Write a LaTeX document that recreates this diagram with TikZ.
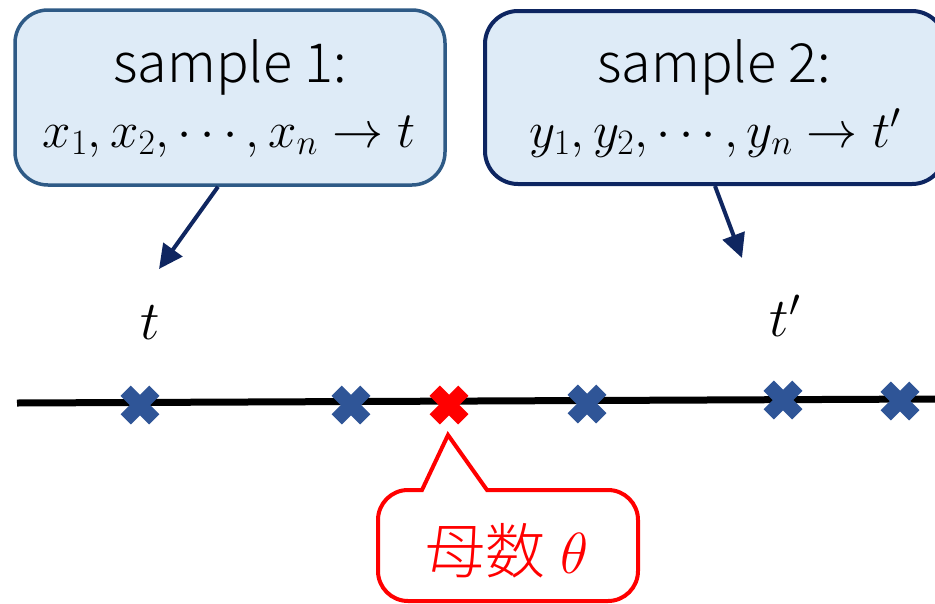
\RequirePackage{fix-cm}
\documentclass[tikz,border=0pt]{standalone}
\usepackage{fontspec}
\newfontfamily\jpfont{Noto Sans CJK JP Light}
\usetikzlibrary{arrows.meta,calc}
\definecolor{boxfill}{HTML}{DEEBF7}
\definecolor{bordera}{HTML}{2E5A86}
\definecolor{borderb}{HTML}{0D2561}
\definecolor{arrcol}{HTML}{0F2660}
\definecolor{crossblue}{HTML}{2F5597}
\tikzset{
  samplebox/.style={draw, fill=boxfill, line width=3.5, rounded corners=33, inner sep=0pt},
  jptext/.style={font={\jpfont\fontsize{54}{60}\selectfont}, inner sep=0pt},
  mathtext/.style={font={\fontsize{51}{58}\selectfont}, inner sep=0pt},
  biglabel/.style={font={\fontsize{55}{60}\selectfont}, inner sep=0pt},
  arr/.style={draw=arrcol, line width=4, -{Triangle[length=24pt,width=23pt]}},
  xmark/.pic={\draw[line width=14.5, line cap=butt] (-14.3,-14.3) -- (14.3,14.3) (-14.3,14.3) -- (14.3,-14.3);}
}
\begin{document}
\begin{tikzpicture}[x=1pt,y=-1pt]
\useasboundingbox (0,0) rectangle (935,603);
% sample boxes
\node[samplebox, draw=bordera, minimum width=430, minimum height=175] (b1) at (230,97.5) {};
\node[samplebox, draw=borderb, line width=4, minimum width=460, minimum height=173] (b2) at (715,97.5) {};
\node[jptext, anchor=base] (s1) at (230,82) {sample 1:};
\node[mathtext, anchor=base] (m1) at (229,147) {$x_1, x_2, \cdots, x_n \to t$};
\node[jptext, anchor=base] (s2) at (714,82) {sample 2:};
\node[mathtext, anchor=base] (m2) at (715,147) {$y_1, y_2, \cdots, y_n \to t'$};
% arrow targets
\coordinate (p1) at (159,269);
\coordinate (p2) at (742,258);
\draw[arr] ($(b1.south)+(-12,0)$) -- (p1);
\draw[arr] (b2.south) -- (p2);
% labels
\node[biglabel, anchor=base] (t1) at (150,339) {$t$};
\node[biglabel, anchor=base] (t2) at (785,336) {$t'$};
% axis
\coordinate (L0) at (17,403);
\coordinate (L1) at (935,399);
\draw[line width=7] (L0) -- (L1);
% crosses
\coordinate (c1) at (140,405);
\coordinate (c2) at (351,405);
\coordinate (c3) at (449,405);
\coordinate (c4) at (587,404);
\coordinate (c5) at (783,400);
\coordinate (c6) at (900,401);
\foreach \c in {c1,c2,c4,c5,c6} {\pic[color=crossblue] at (\c) {xmark};}
\pic[color=red] at (c3) {xmark};
% red callout
\draw[red, line width=4, fill=white, line join=miter]
  (487,490) -- (608,490) arc[start angle=270, end angle=360, radius=30]
  -- (638,571) arc[start angle=0, end angle=90, radius=30]
  -- (408,601) arc[start angle=90, end angle=180, radius=30]
  -- (378,520) arc[start angle=180, end angle=270, radius=30]
  -- (422,490) -- (448,435) -- cycle;
\node[red, anchor=base, inner sep=0pt] (mu) at (507,573) {{\jpfont\fontsize{60}{64}\selectfont 母数}\hspace{15pt}{\fontsize{58}{64}\selectfont$\theta$}};
\end{tikzpicture}
\end{document}
